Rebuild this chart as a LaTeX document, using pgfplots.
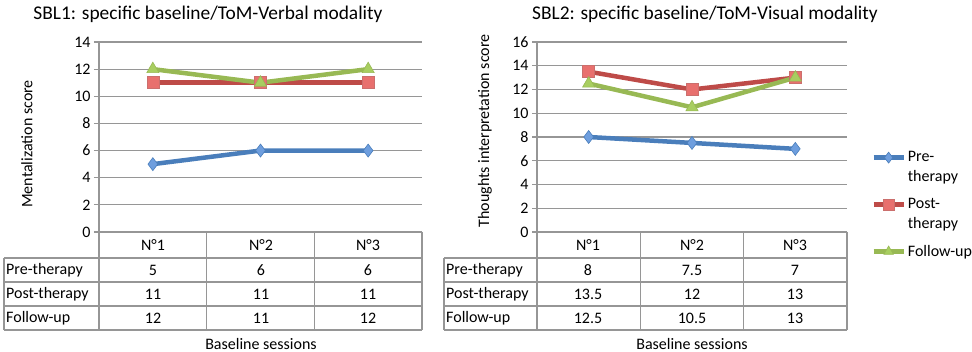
\documentclass[border=0pt]{standalone}
\usepackage{fontspec}
\setmainfont{Carlito}
\usepackage{pgfplots}
\pgfplotsset{compat=1.18}
\definecolor{preblue}{RGB}{74,126,187}
\definecolor{prefill}{RGB}{110,158,222}
\definecolor{postred}{RGB}{190,75,72}
\definecolor{postfill}{RGB}{232,112,110}
\definecolor{fugreen}{RGB}{152,185,84}
\definecolor{fufill}{RGB}{168,206,96}
\definecolor{gridgray}{RGB}{150,150,150}

\newcommand\lbl{\fontsize{16bp}{20bp}\selectfont}
\newcommand\ttl{\fontsize{19.4bp}{23bp}\selectfont}

\pgfplotsset{
  sblaxis/.style={
    scale only axis,
    anchor=south west,
    height=190bp,
    xmin=-0.5, xmax=2.5,
    xtick=\empty,
    ymin=0,
    axis lines*=left,
    axis line style={gridgray, line width=1.2bp},
    ymajorgrids,
    grid style={gridgray, line width=1.2bp},
    major tick style={gridgray, line width=1.2bp},
    tick align=outside,
    major tick length=5bp,
    ticklabel style={font=\lbl},
    /pgf/number format/assume math mode=true,
    clip=false,
  },
  pre/.style={preblue, line width=4.5bp, mark=diamond*, mark size=6.5bp,
    mark options={fill=prefill, draw=preblue, line width=0.6bp}},
  post/.style={postred, line width=4.5bp, mark=square*, mark size=6bp,
    mark options={fill=postfill, draw=postred!80, line width=0.6bp}},
  fu/.style={fugreen, line width=4.5bp, mark=triangle*, mark size=7bp,
    mark options={fill=fufill, draw=fugreen, line width=0.6bp}},
  % legend sample raised by #1 (to sit on the first text line)
  legimg/.style={legend image code/.code={%
    \draw[line width=4.5bp, mark repeat=2, mark phase=2, mark size=5.5bp]
      plot coordinates {(0bp,#1)(15bp,#1)(30bp,#1)};}},
}

% table grid: label-left, axis-x, divider1, divider2, right
\newcommand\datatable[5]{%
  \draw[gridgray, line width=1.2bp]
    (#1bp,94bp) -- (#5bp,94bp)
    (#1bp,70bp) -- (#5bp,70bp)
    (#1bp,46bp) -- (#5bp,46bp)
    (#1bp,22bp) -- (#5bp,22bp)
    (#1bp,94bp) -- (#1bp,22bp)
    (#2bp,120bp) -- (#2bp,22bp)
    (#3bp,120bp) -- (#3bp,22bp)
    (#4bp,120bp) -- (#4bp,22bp)
    (#5bp,120bp) -- (#5bp,22bp);
  \node[font=\lbl, anchor=west, inner sep=1bp] at (#1bp+1bp,82bp) {Pre-therapy};
  \node[font=\lbl, anchor=west, inner sep=1bp] at (#1bp+1bp,58bp) {Post-therapy};
  \node[font=\lbl, anchor=west, inner sep=1bp] at (#1bp+1bp,34bp) {Follow-up};
}

\begin{document}
\begin{tikzpicture}
\useasboundingbox (0,0) rectangle (972bp,352bp);

% ---------- SBL1 ----------
\begin{axis}[sblaxis, at={(99bp,120bp)}, width=323bp,
  ymax=14, ytick={0,2,...,14}]
\addplot[pre]  coordinates {(0,5)(1,6)(2,6)};
\addplot[post] coordinates {(0,11)(1,11)(2,11)};
\addplot[fu]   coordinates {(0,12)(1,11)(2,12)};
\end{axis}
\node[font=\ttl] at (208bp,338bp) {SBL1: specific baseline/ToM-Verbal modality};
\node[font=\lbl, rotate=90] at (27bp,208bp) {Mentalization score};
\datatable{4}{99}{206.7}{314.3}{422}
\foreach \x/\a/\b/\c/\d in {153/N°1/5/11/12, 261/N°2/6/11/11, 368/N°3/6/11/12}{
  \node[font=\lbl] at (\x bp,107bp) {\a};
  \node[font=\lbl] at (\x bp,82bp) {\b};
  \node[font=\lbl] at (\x bp,58bp) {\c};
  \node[font=\lbl] at (\x bp,34bp) {\d};
}
\node[font=\lbl] at (261bp,8bp) {Baseline sessions};

% ---------- SBL2 ----------
\begin{axis}[sblaxis, at={(537bp,120bp)}, width=310bp,
  ymax=16, ytick={0,2,...,16},
  legend style={at={(1.078,0.434)}, anchor=north west, draw=none,
    font=\lbl, row sep=11bp, inner sep=0pt,
    cells={anchor=west, align=left}},
]
\addplot[pre, legimg=10bp]  coordinates {(0,8)(1,7.5)(2,7)};
\addlegendentry{Pre-\\therapy}
\addplot[post, legimg=10bp] coordinates {(0,13.5)(1,12)(2,13)};
\addlegendentry{Post-\\therapy}
\addplot[fu, legimg=0bp]    coordinates {(0,12.5)(1,10.5)(2,13)};
\addlegendentry{Follow-up}
\end{axis}
\node[font=\ttl] at (705bp,338bp) {SBL2: specific baseline/ToM-Visual modality};
\node[font=\lbl, rotate=90] at (485bp,221bp) {Thoughts interpretation score};
\datatable{444}{537}{640.3}{743.7}{847}
\foreach \x/\a/\b/\c/\d in {588/N°1/8/13.5/12.5, 692/N°2/7.5/12/10.5, 795/N°3/7/13/13}{
  \node[font=\lbl] at (\x bp,107bp) {\a};
  \node[font=\lbl] at (\x bp,82bp) {\b};
  \node[font=\lbl] at (\x bp,58bp) {\c};
  \node[font=\lbl] at (\x bp,34bp) {\d};
}
\node[font=\lbl] at (692bp,8bp) {Baseline sessions};
\end{tikzpicture}
\end{document}
